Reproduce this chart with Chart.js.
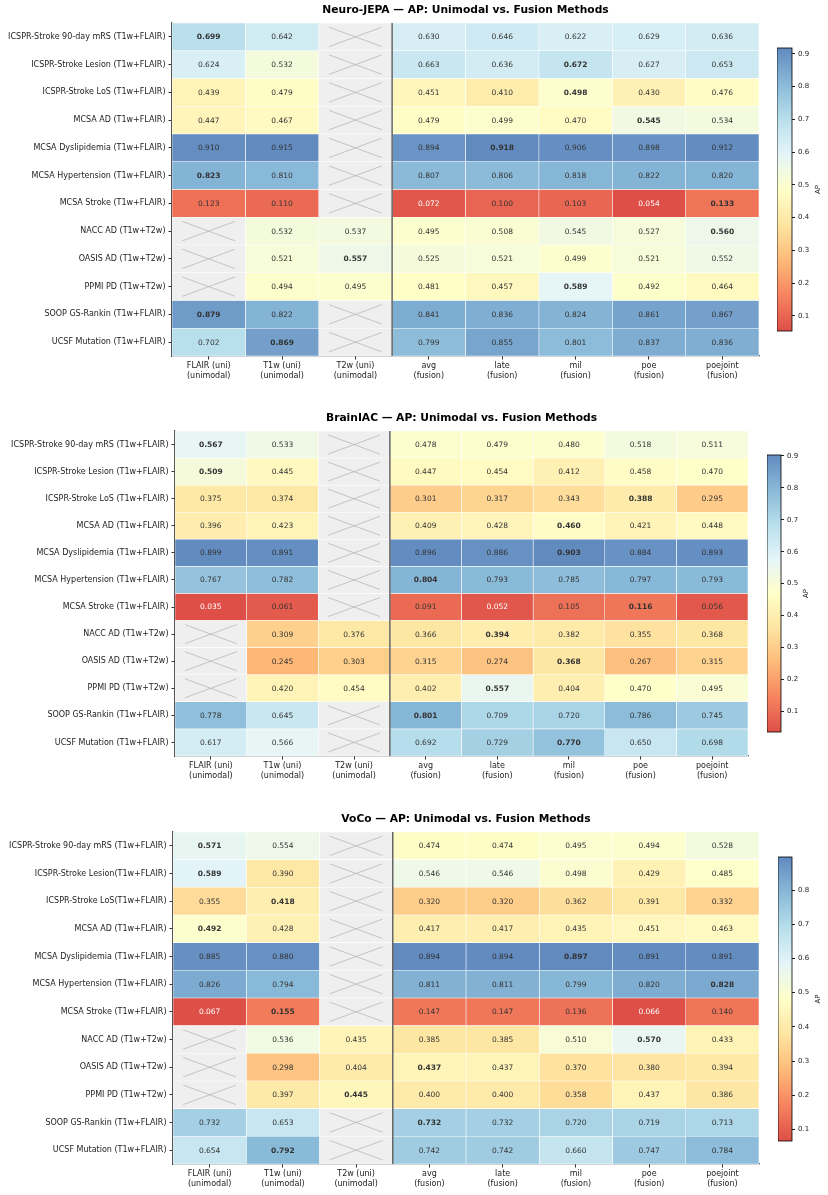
<!DOCTYPE html>
<html>
<head>
<meta charset="utf-8">
<script src="https://cdn.jsdelivr.net/npm/chart.js@4.4.1/dist/chart.umd.min.js"></script>
<style>
    body { margin: 0; background: #fff; width: 828px; height: 1195px; overflow: hidden; position: relative; }
    canvas { position: absolute; }
</style>
</head>
<body>
<canvas id="hm1"></canvas>
<canvas id="cb1"></canvas>
<canvas id="hm2"></canvas>
<canvas id="cb2"></canvas>
<canvas id="hm3"></canvas>
<canvas id="cb3"></canvas>
<script>
var columns = [
    ["FLAIR (uni)", "(unimodal)"], ["T1w (uni)", "(unimodal)"], ["T2w (uni)", "(unimodal)"],
    ["avg", "(fusion)"], ["late", "(fusion)"], ["mil", "(fusion)"], ["poe", "(fusion)"], ["poejoint", "(fusion)"]
];

var tasks = [
    "ICSPR-Stroke 90-day mRS (T1w+FLAIR)", "ICSPR-Stroke Lesion (T1w+FLAIR)", "ICSPR-Stroke LoS (T1w+FLAIR)",
    "MCSA AD (T1w+FLAIR)", "MCSA Dyslipidemia (T1w+FLAIR)", "MCSA Hypertension (T1w+FLAIR)",
    "MCSA Stroke (T1w+FLAIR)", "NACC AD (T1w+T2w)", "OASIS AD (T1w+T2w)", "PPMI PD (T1w+T2w)",
    "SOOP GS-Rankin (T1w+FLAIR)", "UCSF Mutation (T1w+FLAIR)"
];
var tasksVoco = [
    "ICSPR-Stroke 90-day mRS (T1w+FLAIR)", "ICSPR-Stroke Lesion(T1w+FLAIR)", "ICSPR-Stroke LoS(T1w+FLAIR)",
    "MCSA AD (T1w+FLAIR)", "MCSA Dyslipidemia (T1w+FLAIR)", "MCSA Hypertension (T1w+FLAIR)",
    "MCSA Stroke (T1w+FLAIR)", "NACC AD (T1w+T2w)", "OASIS AD (T1w+T2w)", "PPMI PD (T1w+T2w)",
    "SOOP GS-Rankin (T1w+FLAIR)", "UCSF Mutation (T1w+FLAIR)"
];

// AP per task, columns as above (null = modality not available)
var neuroJepa = [
    [0.699, 0.642, null, 0.630, 0.646, 0.622, 0.629, 0.636],
    [0.624, 0.532, null, 0.663, 0.636, 0.672, 0.627, 0.653],
    [0.439, 0.479, null, 0.451, 0.410, 0.498, 0.430, 0.476],
    [0.447, 0.467, null, 0.479, 0.499, 0.470, 0.545, 0.534],
    [0.910, 0.915, null, 0.894, 0.918, 0.906, 0.898, 0.912],
    [0.823, 0.810, null, 0.807, 0.806, 0.818, 0.822, 0.820],
    [0.123, 0.110, null, 0.072, 0.100, 0.103, 0.054, 0.133],
    [null, 0.532, 0.537, 0.495, 0.508, 0.545, 0.527, 0.560],
    [null, 0.521, 0.557, 0.525, 0.521, 0.499, 0.521, 0.552],
    [null, 0.494, 0.495, 0.481, 0.457, 0.589, 0.492, 0.464],
    [0.879, 0.822, null, 0.841, 0.836, 0.824, 0.861, 0.867],
    [0.702, 0.869, null, 0.799, 0.855, 0.801, 0.837, 0.836]
];
var neuroJepaBest = [0, 5, 5, 6, 4, 0, 7, 7, 2, 5, 0, 1];

var brainIac = [
    [0.567, 0.533, null, 0.478, 0.479, 0.480, 0.518, 0.511],
    [0.509, 0.445, null, 0.447, 0.454, 0.412, 0.458, 0.470],
    [0.375, 0.374, null, 0.301, 0.317, 0.343, 0.388, 0.295],
    [0.396, 0.423, null, 0.409, 0.428, 0.460, 0.421, 0.448],
    [0.899, 0.891, null, 0.896, 0.886, 0.903, 0.884, 0.893],
    [0.767, 0.782, null, 0.804, 0.793, 0.785, 0.797, 0.793],
    [0.035, 0.061, null, 0.091, 0.052, 0.105, 0.116, 0.056],
    [null, 0.309, 0.376, 0.366, 0.394, 0.382, 0.355, 0.368],
    [null, 0.245, 0.303, 0.315, 0.274, 0.368, 0.267, 0.315],
    [null, 0.420, 0.454, 0.402, 0.557, 0.404, 0.470, 0.495],
    [0.778, 0.645, null, 0.801, 0.709, 0.720, 0.786, 0.745],
    [0.617, 0.566, null, 0.692, 0.729, 0.770, 0.650, 0.698]
];
var brainIacBest = [0, 0, 6, 5, 5, 3, 6, 4, 5, 4, 3, 5];

var voco = [
    [0.571, 0.554, null, 0.474, 0.474, 0.495, 0.494, 0.528],
    [0.589, 0.390, null, 0.546, 0.546, 0.498, 0.429, 0.485],
    [0.355, 0.418, null, 0.320, 0.320, 0.362, 0.391, 0.332],
    [0.492, 0.428, null, 0.417, 0.417, 0.435, 0.451, 0.463],
    [0.885, 0.880, null, 0.894, 0.894, 0.897, 0.891, 0.891],
    [0.826, 0.794, null, 0.811, 0.811, 0.799, 0.820, 0.828],
    [0.067, 0.155, null, 0.147, 0.147, 0.136, 0.066, 0.140],
    [null, 0.536, 0.435, 0.385, 0.385, 0.510, 0.570, 0.433],
    [null, 0.298, 0.404, 0.437, 0.437, 0.370, 0.380, 0.394],
    [null, 0.397, 0.445, 0.400, 0.400, 0.358, 0.437, 0.386],
    [0.732, 0.653, null, 0.732, 0.732, 0.720, 0.719, 0.713],
    [0.654, 0.792, null, 0.742, 0.742, 0.660, 0.747, 0.784]
];
var vocoBest = [0, 0, 1, 0, 5, 7, 1, 6, 3, 2, 3, 1];

var cbTicks = [0.1, 0.2, 0.3, 0.4, 0.5, 0.6, 0.7, 0.8, 0.9];

Chart.defaults.font.family = "'DejaVu Sans', sans-serif";
Chart.defaults.color = "#222";

// RdYlBu (trimmed ends), drawn at alpha 0.85 on white
var stops = ["#d73027", "#f46d43", "#fdae61", "#fee090", "#ffffbf", "#e0f3f8", "#abd9e9", "#74add1", "#4575b4"];
function hex(h) {
    return [parseInt(h.substr(1, 2), 16), parseInt(h.substr(3, 2), 16), parseInt(h.substr(5, 2), 16)];
}
function cmap(t) {
    t = Math.max(0, Math.min(1, t));
    var p = t * (stops.length - 1);
    var i = Math.min(Math.floor(p), stops.length - 2);
    var f = p - i;
    var a = hex(stops[i]), b = hex(stops[i + 1]);
    var out = [];
    for (var k = 0; k < 3; k++) {
        var v = a[k] + (b[k] - a[k]) * f;
        out.push(Math.round(v * 0.85 + 255 * 0.15));
    }
    return "rgb(" + out.join(",") + ")";
}

function range(vals) {
    var lo = 1, hi = 0;
    vals.forEach(function (row) {
        row.forEach(function (v) {
            if (v === null) return;
            lo = Math.min(lo, v);
            hi = Math.max(hi, v);
        });
    });
    return [lo, hi];
}

function place(id, left, top, w, h) {
    var el = document.getElementById(id);
    el.width = w;
    el.height = h;
    el.style.left = left + "px";
    el.style.top = top + "px";
    return el.getContext("2d");
}

function heatmap(id, g, title, rows, vals, best) {
    var lim = range(vals);
    var vmin = lim[0], vmax = lim[1];
    var h = g.bottom - g.canvasTop + 30;
    var ctx = place(id, 0, g.canvasTop, 828, h);

    var datasets = columns.map(function (col, c) {
        return {
            data: rows.map(function () { return [c, c + 1]; }),
            backgroundColor: rows.map(function (r, i) {
                var v = vals[i][c];
                return v === null ? "#efefef" : cmap((v - vmin) / (vmax - vmin));
            }),
            borderColor: "#ffffff",
            borderWidth: 0.6,
            borderSkipped: false,
            barPercentage: 1,
            categoryPercentage: 1,
            grouped: false
        };
    });

    var labelsPlugin = {
        id: "cellLabels",
        afterDatasetsDraw: function (chart) {
            var c2 = chart.ctx, area = chart.chartArea;
            c2.save();
            c2.textAlign = "center";
            c2.textBaseline = "middle";
            chart.data.datasets.forEach(function (ds, c) {
                chart.getDatasetMeta(c).data.forEach(function (bar, r) {
                    var p = bar.getProps(["x", "y", "base", "height"], true);
                    var cx = (p.x + p.base) / 2, w = Math.abs(p.x - p.base), bh = p.height;
                    var v = vals[r][c];
                    if (v === null) {
                        c2.strokeStyle = "#b8b8b8";
                        c2.lineWidth = 0.8;
                        c2.beginPath();
                        c2.moveTo(cx - w * 0.36, p.y - bh * 0.35);
                        c2.lineTo(cx + w * 0.36, p.y + bh * 0.35);
                        c2.moveTo(cx - w * 0.36, p.y + bh * 0.35);
                        c2.lineTo(cx + w * 0.36, p.y - bh * 0.35);
                        c2.stroke();
                        return;
                    }
                    c2.font = (best[r] === c ? "bold " : "") + "7.5px 'DejaVu Sans'";
                    c2.fillStyle = (v - vmin) / (vmax - vmin) < 0.022 ? "#ffffff" : "#333333";
                    c2.fillText(v.toFixed(3), cx, p.y + 0.5);
                });
            });
            // unimodal | fusion separator
            var xs = chart.scales.x.getPixelForValue(3);
            c2.strokeStyle = "#666";
            c2.lineWidth = 1.5;
            c2.beginPath();
            c2.moveTo(xs, area.top);
            c2.lineTo(xs, area.bottom);
            c2.stroke();
            c2.font = "bold 10.7px 'DejaVu Sans'";
            c2.fillStyle = "#000";
            c2.fillText(title, (area.left + area.right) / 2, area.top - 13);
            c2.restore();
        }
    };

    new Chart(ctx, {
        type: "bar",
        data: { labels: rows, datasets: datasets },
        options: {
            indexAxis: "y",
            responsive: false,
            animation: false,
            layout: { padding: { top: g.top - g.canvasTop, right: 828 - g.right, bottom: 0, left: 0 } },
            plugins: { legend: { display: false }, tooltip: { enabled: false } },
            scales: {
                x: {
                    type: "linear",
                    min: 0,
                    max: columns.length,
                    afterBuildTicks: function (s) {
                        s.ticks = columns.map(function (col, i) { return { value: i + 0.5 }; });
                    },
                    afterFit: function (s) { s.height = 30; },
                    ticks: {
                        autoSkip: false,
                        maxRotation: 0,
                        padding: 2,
                        font: { size: 8, lineHeight: 1.2 },
                        callback: function (v, i) { return columns[i]; }
                    },
                    grid: { drawOnChartArea: false, tickLength: 3.5, color: "#333" },
                    border: { display: true, color: "#555", width: 1.2 }
                },
                y: {
                    afterFit: function (s) { s.width = g.left; },
                    ticks: { autoSkip: false, padding: 3, font: { size: 8 } },
                    grid: { drawOnChartArea: false, offset: false, tickLength: 3.5, color: "#333" },
                    border: { display: true, color: "#555", width: 1.2 }
                }
            }
        },
        plugins: [labelsPlugin]
    });
    return lim;
}

function colorbar(id, b, lim) {
    var vmin = lim[0], vmax = lim[1];
    var w = 828 - b.left;
    var ctx = place(id, b.left, b.top - 10, w, b.bottom - b.top + 20);
    var barPlugin = {
        id: "cbar",
        beforeDatasetsDraw: function (chart) {
            var c2 = chart.ctx, a = chart.chartArea;
            var grad = c2.createLinearGradient(0, a.bottom, 0, a.top);
            for (var k = 0; k <= 40; k++) grad.addColorStop(k / 40, cmap(k / 40));
            c2.save();
            c2.fillStyle = grad;
            c2.fillRect(a.left, a.top, a.right - a.left, a.bottom - a.top);
            c2.strokeStyle = "#000";
            c2.lineWidth = 0.8;
            c2.strokeRect(a.left, a.top, a.right - a.left, a.bottom - a.top);
            c2.translate(b.label - b.left, (a.top + a.bottom) / 2);
            c2.rotate(-Math.PI / 2);
            c2.font = "7px 'DejaVu Sans'";
            c2.fillStyle = "#222";
            c2.textAlign = "center";
            c2.textBaseline = "middle";
            c2.fillText("AP", 0, 0);
            c2.restore();
        }
    };
    new Chart(ctx, {
        type: "bar",
        data: { labels: [], datasets: [] },
        options: {
            responsive: false,
            animation: false,
            layout: { padding: { top: 10, bottom: 10, left: 0, right: 0 } },
            plugins: { legend: { display: false }, tooltip: { enabled: false } },
            scales: {
                x: { display: false },
                y: {
                    type: "linear",
                    position: "right",
                    min: vmin,
                    max: vmax,
                    afterFit: function (s) { s.width = w - b.width; },
                    afterBuildTicks: function (s) {
                        s.ticks = cbTicks.filter(function (t) { return t >= vmin && t <= vmax; })
                            .map(function (t) { return { value: t }; });
                    },
                    ticks: {
                        padding: 3,
                        font: { size: 7 },
                        callback: function (v) { return v.toFixed(1); }
                    },
                    grid: { drawOnChartArea: false, tickLength: 3, color: "#222" },
                    border: { display: false }
                }
            }
        },
        plugins: [barPlugin]
    });
}

var lim1 = heatmap("hm1", { canvasTop: 0, top: 23, left: 172, right: 759, bottom: 356 },
    "Neuro-JEPA \u2014 AP: Unimodal vs. Fusion Methods", tasks, neuroJepa, neuroJepaBest);
colorbar("cb1", { left: 777, top: 48, bottom: 331, width: 15, label: 818 }, lim1);

var lim2 = heatmap("hm2", { canvasTop: 400, top: 431, left: 175, right: 748, bottom: 756 },
    "BrainIAC \u2014 AP: Unimodal vs. Fusion Methods", tasks, brainIac, brainIacBest);
colorbar("cb2", { left: 767, top: 455, bottom: 732, width: 14, label: 806 }, lim2);

var lim3 = heatmap("hm3", { canvasTop: 800, top: 832, left: 173, right: 759, bottom: 1164 },
    "VoCo \u2014 AP: Unimodal vs. Fusion Methods", tasksVoco, voco, vocoBest);
colorbar("cb3", { left: 778, top: 857, bottom: 1141, width: 14, label: 818 }, lim3);
</script>
</body>
</html>
